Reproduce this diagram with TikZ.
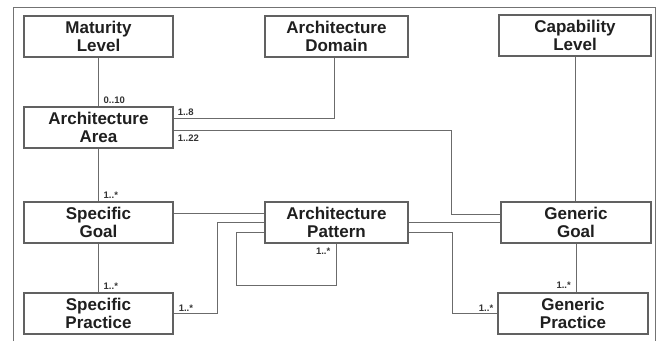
\documentclass[tikz,border=0pt]{standalone}
\usepackage{fontspec}
\setmainfont{Liberation Sans}
\begin{document}
\begin{tikzpicture}[x=1pt,y=-1pt,
  box/.style={draw=black!62,line width=1.2pt,fill=white,inner sep=0pt,minimum height=41pt,
    align=center,font=\fontsize{17}{18}\selectfont\bfseries,text=black!88},
  conn/.style={draw=black!58,line width=1pt},
  mult/.style={font=\fontsize{9.5}{10}\selectfont\bfseries,text=black!80,inner sep=0pt}]
\useasboundingbox (0,0) rectangle (659,341);
\draw[black!55,line width=1pt] (13,341) -- (13,7) -- (655,7) -- (655,341);
\node[box,minimum width=149pt] (ml) at (98.5,36.5) {Maturity\\Level};
\node[box,minimum width=143pt] (ad) at (336.5,36.5) {Architecture\\Domain};
\node[box,minimum width=152pt] (cl) at (575,35.5) {Capability\\Level};
\node[box,minimum width=149pt] (aa) at (98.5,127.5) {Architecture\\Area};
\node[box,minimum width=149pt] (sg) at (98.5,222.5) {Specific\\Goal};
\node[box,minimum width=143pt] (ap) at (336.5,222.5) {Architecture\\Pattern};
\node[box,minimum width=150pt] (gg) at (576,222.5) {Generic\\Goal};
\node[box,minimum width=149pt] (sp) at (98.5,313.5) {Specific\\Practice};
\node[box,minimum width=150pt] (gp) at (573,313.5) {Generic\\Practice};
% connectors
\draw[conn] (ml.south) -- (aa.north);
\node[mult,anchor=south west] at ([xshift=5pt,yshift=3pt]aa.north) {0..10};
\draw[conn] ([xshift=-2.5pt]ad.south) |- ([yshift=9.5pt]aa.east);
\node[mult,anchor=south west] at ([xshift=4pt,yshift=11.5pt]aa.east) {1..8};
\draw[conn] ([yshift=-2.5pt]aa.east) -| ([xshift=-49pt,yshift=8.5pt]gg.west) -- ([yshift=8.5pt]gg.west);
\node[mult,anchor=north west] at ([xshift=4pt,yshift=-7pt]aa.east) {1..22};
\draw[conn] (cl.south) -- (cl.south |- gg.north);
\draw[conn] (aa.south) -- (sg.north);
\node[mult,anchor=south west] at ([xshift=5pt,yshift=3pt]sg.north) {1..*};
\draw[conn] (sg.south) -- (sp.north);
\node[mult,anchor=south west] at ([xshift=5pt,yshift=3pt]sp.north) {1..*};
\draw[conn] ([yshift=9.5pt]sg.east) -- ([yshift=9.5pt]ap.west);
\draw[conn] (sp.east) -| ([xshift=-47pt]ap.west) -- (ap.west);
\node[mult,anchor=south west] at ([xshift=5pt,yshift=2pt]sp.east) {1..*};
\draw[conn] ([yshift=-9.5pt]ap.west) -- ++(-28pt,0) |- ([yshift=-42pt]ap.south) -- (ap.south);
\node[mult,anchor=north east] at ([xshift=-6pt,yshift=-4pt]ap.south) {1..*};
\draw[conn] (ap.east) -- (gg.west);
\draw[conn] ([yshift=-9.5pt]ap.east) -| ([xshift=-45pt]gp.west) -- (gp.west);
\node[mult,anchor=south east] at ([xshift=-4pt,yshift=2pt]gp.west) {1..*};
\draw[conn] (gg.south) -- (gg.south |- gp.north);
\node[mult,anchor=south east] at ([xshift=-5pt,yshift=4pt]gg.south |- gp.north) {1..*};
\end{tikzpicture}
\end{document}
